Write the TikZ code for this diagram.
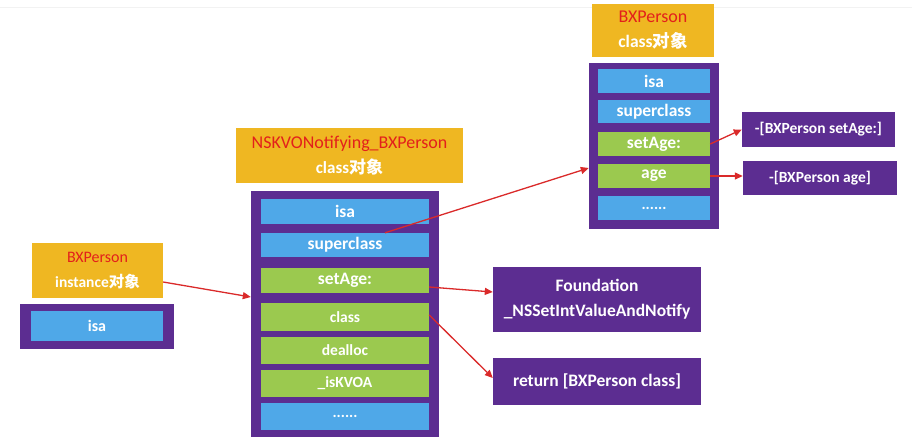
\documentclass[tikz,border=0pt]{standalone}
\usepackage{fontspec}
\setmainfont{Carlito}
\newfontfamily\cjk{Noto Sans CJK SC}
\usetikzlibrary{arrows.meta}

\definecolor{hdryellow}{HTML}{EFB722}
\definecolor{objpurple}{HTML}{5C2D91}
\definecolor{slotblue}{HTML}{4FA8E8}
\definecolor{slotgreen}{HTML}{9BC94F}
\definecolor{namered}{HTML}{E3201B}
\definecolor{linkred}{HTML}{DA2A2A}

\tikzset{
  fs/.style={font=\fontsize{#1}{25}\selectfont\bfseries},
  header/.style={fill=hdryellow, text=white, align=center, inner sep=0pt},
  frame/.style={fill=objpurple, inner sep=0pt},
  bslot/.style={fill=slotblue, text=white, inner sep=0pt, fs=17.5},
  gslot/.style={fill=slotgreen, text=white, inner sep=0pt, fs=17.5},
  method/.style={fill=objpurple, text=white, align=center, inner sep=0pt},
  link/.style={draw=linkred, line width=1.3pt, -{Triangle[length=8pt,width=7pt]}}
}

\begin{document}
\begin{tikzpicture}[x=1pt, y=-1pt]
\useasboundingbox (0,0) rectangle (912,437);
\draw[black!5, line width=1pt] (0,7) -- (912,7);

% instance object
\node[header, fs=15.5, minimum width=131pt, minimum height=55pt] (hdrInst) at (97.5,270.5)
  {{\color{namered}\mdseries\fontsize{16}{25}\selectfont BXPerson}\\instance{\cjk 对象}};
\node[frame, minimum width=154pt, minimum height=45pt] (frameInst) at (97,326.5) {};
\node[bslot, fs=16, minimum width=132pt, minimum height=30pt] (instIsa) at (97,326) {isa};

% NSKVONotifying_BXPerson class object
\node[header, fs=17, minimum width=227pt, minimum height=55pt] (hdrKVO) at (349.5,155.5)
  {{\color{namered}\mdseries\fontsize{18}{25}\selectfont NSKVONotifying\_BXPerson}\\class{\cjk 对象}};
\node[frame, minimum width=188pt, minimum height=246pt] (frameKVO) at (345,314) {};
\node[bslot, minimum width=168pt, minimum height=25pt] (kIsa) at (345,211.5) {isa};
\node[bslot, minimum width=168pt, minimum height=24pt] (kSuper) at (345,245) {superclass};
\node[gslot, minimum width=168pt, minimum height=25pt] (kSet) at (345,280.5) {setAge:};
\node[gslot, fs=15.5, minimum width=168pt, minimum height=28pt] (kClass) at (345,317) {class};
\node[gslot, fs=15.5, minimum width=168pt, minimum height=27pt] (kDealloc) at (345,350.5) {dealloc};
\node[gslot, fs=15.5, minimum width=168pt, minimum height=27pt] (kIsKVOA) at (345,383.5) {\_isKVOA};
\node[bslot, fs=15.5, minimum width=168pt, minimum height=27pt] (kMore) at (345,416.5) {......};

% BXPerson class object
\node[header, fs=17.5, minimum width=122pt, minimum height=53pt] (hdrCls) at (653,30.5)
  {{\color{namered}\mdseries\fontsize{18}{25}\selectfont BXPerson}\\class{\cjk 对象}};
\node[frame, minimum width=130pt, minimum height=166pt] (frameCls) at (654,146) {};
\node[bslot, minimum width=112pt, minimum height=24pt] (cIsa) at (654,81) {isa};
\node[bslot, minimum width=112pt, minimum height=23pt] (cSuper) at (654,111.5) {superclass};
\node[gslot, minimum width=112pt, minimum height=24pt] (cSet) at (654,144) {setAge:};
\node[gslot, minimum width=112pt, minimum height=24pt] (cAge) at (654,176) {age};
\node[bslot, fs=15.5, minimum width=112pt, minimum height=24pt] (cMore) at (654,208) {......};

% implementations
\node[method, fs=15.5, minimum width=153pt, minimum height=35pt] (mSet) at (818.5,129.5) {-[BXPerson setAge:]};
\node[method, fs=15.5, minimum width=154pt, minimum height=34pt] (mAge) at (820,178) {-[BXPerson age]};
\node[method, fs=17.5, minimum width=208pt, minimum height=65pt] (mFound) at (597,299.5)
  {Foundation\\\_NSSetIntValueAndNotify};
\node[method, fs=17.5, minimum width=208pt, minimum height=47pt] (mRet) at (597,381.5) {return [BXPerson class]};

\draw[link] ([yshift=-11.5pt]hdrInst.east) -- ([yshift=17pt]frameKVO.west);
\draw[link] ([xshift=40pt]kSuper.north) -- ([yshift=-22pt]frameCls.west);
\draw[link] ([yshift=-6.5pt]kSet.east) -- ([yshift=7.5pt]mFound.west);
\draw[link] ([yshift=2pt]kClass.east) -- ([yshift=3.5pt]mRet.west);
\draw[link] (cSet.east) -- (mSet.west);
\draw[link] (cAge.east) -- ([yshift=2pt]mAge.west);
\end{tikzpicture}
\end{document}
